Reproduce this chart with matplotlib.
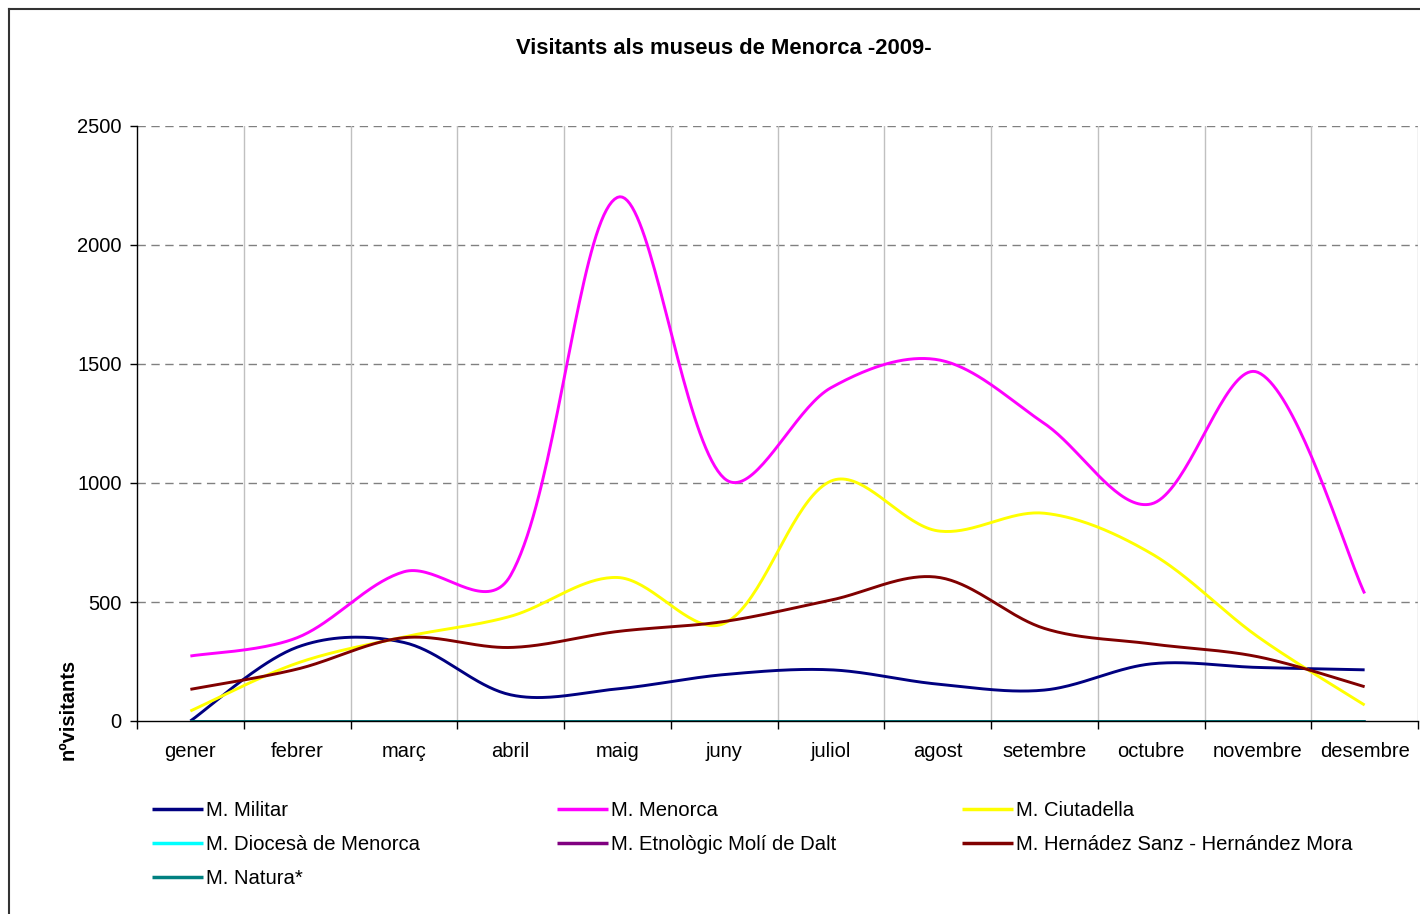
"""
plot.py

Visitants als museus de Menorca -2009-: smoothed monthly lines,
Excel-style (Bezier smoothing through the monthly points).
"""
import numpy as np
import matplotlib
matplotlib.use("Agg")
import matplotlib.pyplot as plt
from matplotlib.lines import Line2D

plt.rcParams["font.family"] = ["Liberation Sans", "DejaVu Sans"]

# Data
months = ["gener", "febrer", "març", "abril", "maig", "juny",
          "juliol", "agost", "setembre", "octubre", "novembre", "desembre"]
militar = [0, 310, 330, 110, 135, 195, 215, 155, 130, 240, 225, 215]
menorca = [273, 350, 627, 612, 2200, 1020, 1400, 1518, 1250, 912, 1465, 536]
ciutadella = [42, 243, 353, 440, 603, 410, 1008, 799, 873, 704, 354, 67]
diocesa = [0, 0, 0, 0, 0, 0, 0, 0, 0, 0, 0, 0]
etnologic = [0, 0, 0, 0, 0, 0, 0, 0, 0, 0, 0, 0]
hernandez = [133, 218, 350, 309, 376, 418, 508, 604, 389, 324, 270, 144]
natura = [0, 0, 0, 0, 0, 0, 0, 0, 0, 0, 0, 0]

series = [
    ("M. Militar", militar, "#000080"),
    ("M. Menorca", menorca, "#FF00FF"),
    ("M. Ciutadella", ciutadella, "#FFFF00"),
    ("M. Diocesà de Menorca", diocesa, "#00FFFF"),
    ("M. Etnològic Molí de Dalt", etnologic, "#800080"),
    ("M. Hernádez Sanz - Hernández Mora", hernandez, "#800000"),
    ("M. Natura*", natura, "#008080"),
]

# pixel size of one x unit and one y unit, used for chord lengths
PX_X = 106.75
PX_Y = 595 / 2500


def smooth(xs, ys, steps=40):
    """Bezier smoothing through every point, tangents weighted by sqrt chord length."""
    pts = np.column_stack([np.asarray(xs, float), np.asarray(ys, float)])
    n = len(pts)
    scale = np.array([PX_X, PX_Y])

    def dist(a, b):
        return np.sqrt(np.hypot(*((pts[a] - pts[b]) * scale)))

    out = []
    for i in range(n - 1):
        p0, p1, p2, p3 = max(i - 1, 0), i, i + 1, min(i + 2, n - 1)
        # control after p1
        d_prev, d_next = dist(p0, p1), dist(p1, p2)
        w = 0.5 if p0 == p1 else d_next / (d_prev + d_next)
        c1 = pts[p1] + (pts[p2] - pts[p0]) * w / 3
        # control before p2
        d_prev, d_next = dist(p1, p2), dist(p2, p3)
        w = 0.5 if p3 == p2 else d_prev / (d_prev + d_next)
        c2 = pts[p2] - (pts[p3] - pts[p1]) * w / 3
        t = np.linspace(0, 1, steps, endpoint=(i == n - 2))[:, None]
        seg = ((1 - t) ** 3) * pts[p1] + 3 * (1 - t) ** 2 * t * c1 \
            + 3 * (1 - t) * t ** 2 * c2 + t ** 3 * pts[p2]
        out.append(seg)
    out = np.vstack(out)
    return out[:, 0], out[:, 1]


fig = plt.figure(figsize=(14.2, 9.14), dpi=100)
ax = fig.add_axes([137 / 1420, 1 - 721 / 914, (1418 - 137) / 1420, (721 - 126) / 914])

x = np.arange(len(months)) + 0.5
handles = {}
for name, vals, color in series:
    sx, sy = smooth(x, vals)
    line, = ax.plot(sx, sy, color=color, lw=2.1, solid_capstyle="butt", label=name)
    handles[name] = line

ax.set_xlim(0, 12)
ax.set_ylim(0, 2500)

# grid: dashed horizontal, light solid vertical at category boundaries
ax.set_yticks(np.arange(0, 2501, 500))
ax.set_xticks(x)
ax.set_xticklabels(months)
ax.set_xticks(np.arange(0, 13), minor=True)
for yv in range(500, 2501, 500):
    ax.axhline(yv, color="#808080", lw=1.0, ls=(0, (6, 4)), zorder=0)
for xv in range(1, 13):
    ax.axvline(xv, color="#C0C0C0", lw=1.0, zorder=0)

ax.spines["top"].set_visible(False)
ax.spines["right"].set_visible(False)
ax.spines["left"].set_linewidth(1.0)
ax.spines["bottom"].set_linewidth(1.0)
ax.tick_params(axis="x", which="major", length=0, pad=15, labelsize=14.5)
ax.tick_params(axis="x", which="minor", length=6, width=1.0, direction="out")
ax.tick_params(axis="y", length=5, width=1.0, pad=6, labelsize=14.5)

fig.text(724 / 1420, 1 - 49 / 914, "Visitants als museus de Menorca -2009-",
         ha="center", va="center", fontsize=15.8, fontweight="bold")
fig.text(68 / 1420, 1 - 709 / 914, "nºvisitants", rotation=90,
         ha="center", va="center", fontsize=14.5, fontweight="bold")

# legend in three columns, row-major like the reference
columns = [
    ["M. Militar", "M. Diocesà de Menorca", "M. Natura*"],
    ["M. Menorca", "M. Etnològic Molí de Dalt"],
    ["M. Ciutadella", "M. Hernádez Sanz - Hernández Mora"],
]
col_x = [152, 557, 962]
for names, cx in zip(columns, col_x):
    leg = fig.legend([handles[n] for n in names], names,
                     loc="upper left", bbox_to_anchor=(cx / 1420, 1 - 801 / 914),
                     frameon=False, fontsize=14.6, handlelength=2.5,
                     handletextpad=0.15, borderpad=0, borderaxespad=0,
                     labelspacing=0.75)
    for lh in leg.legend_handles:
        lh.set_linewidth(2.5)

# outer chart frame (top and left edges visible)
fig.add_artist(Line2D([9 / 1420, 1], [1 - 9 / 914, 1 - 9 / 914], color="#333333", lw=1.5))
fig.add_artist(Line2D([9 / 1420, 9 / 1420], [0, 1 - 9 / 914], color="#333333", lw=1.5))

fig.savefig("out.png", dpi=100)
